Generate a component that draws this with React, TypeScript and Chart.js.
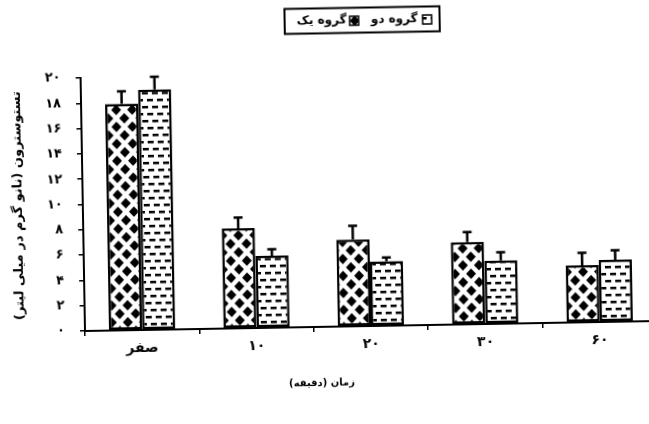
import React, { useEffect, useRef } from 'react';
import { Chart, registerables } from 'chart.js';

Chart.register(...registerables);

// ---- data ----
const categories = ['صفر', '۱۰', '۲۰', '۳۰', '۶۰'];
const seriesLabels = ['گروه یک', 'گروه دو'];
const group1Values = [17.9, 7.9, 6.85, 6.5, 4.5];
const group1Errors = [1.0, 0.85, 1.1, 0.8, 1.0];
const group2Values = [19.0, 5.7, 5.1, 5.0, 4.9];
const group2Errors = [1.0, 0.5, 0.3, 0.65, 0.75];
const yTickLabels = ['۰', '۲', '۴', '۶', '۸', '۱۰', '۱۲', '۱۴', '۱۶', '۱۸', '۲۰'];
const yAxisTitle = 'تستوسترون (نانو گرم در میلی لیتر)';
const xAxisTitle = 'زمان (دقیقه)';

const FONT = '"DejaVu Sans", sans-serif';

function makeDiamondPattern(target: CanvasRenderingContext2D) {
  const c = document.createElement('canvas');
  c.width = 16;
  c.height = 17;
  const g = c.getContext('2d')!;
  g.fillStyle = '#fff';
  g.fillRect(0, 0, 16, 17);
  g.fillStyle = '#000';
  const diamond = (cx: number, cy: number) => {
    g.beginPath();
    g.moveTo(cx - 5, cy);
    g.lineTo(cx, cy - 5.3);
    g.lineTo(cx + 5, cy);
    g.lineTo(cx, cy + 5.3);
    g.closePath();
    g.fill();
  };
  diamond(0, 0);
  diamond(16, 0);
  diamond(0, 17);
  diamond(16, 17);
  diamond(8, 8.5);
  return target.createPattern(c, 'repeat')!;
}

function makeDashPattern(target: CanvasRenderingContext2D) {
  const c = document.createElement('canvas');
  c.width = 10;
  c.height = 14;
  const g = c.getContext('2d')!;
  g.fillStyle = '#fff';
  g.fillRect(0, 0, 10, 14);
  g.fillStyle = '#000';
  g.fillRect(1, 2, 6, 2.5);
  g.fillRect(6, 9, 4, 2.5);
  g.fillRect(0, 9, 2, 2.5);
  return target.createPattern(c, 'repeat')!;
}

const errorsBySeries = [group1Errors, group2Errors];

const errorBarPlugin = {
  id: 'errorBars',
  afterDatasetsDraw(chart: any) {
    const ctx = chart.ctx;
    const yScale = chart.scales.y;
    chart.data.datasets.forEach((ds: any, i: number) => {
      const meta = chart.getDatasetMeta(i);
      meta.data.forEach((bar: any, j: number) => {
        const top = yScale.getPixelForValue(ds.data[j] + errorsBySeries[i][j]);
        ctx.save();
        ctx.strokeStyle = '#000';
        ctx.lineWidth = 2.5;
        ctx.beginPath();
        ctx.moveTo(bar.x, bar.y);
        ctx.lineTo(bar.x, top);
        ctx.moveTo(bar.x - 4.5, top);
        ctx.lineTo(bar.x + 4.5, top);
        ctx.stroke();
        ctx.restore();
      });
    });
  },
};

const decorPlugin = {
  id: 'decor',
  afterDraw(chart: any) {
    const ctx = chart.ctx;
    const area = chart.chartArea;
    const ds = chart.data.datasets;
    ctx.save();
    ctx.direction = 'rtl';
    // legend frame
    ctx.strokeStyle = '#000';
    ctx.lineWidth = 2;
    ctx.strokeRect(290, 12.5, 155, 25);
    ctx.font = `bold 12px ${FONT}`;
    ctx.fillStyle = '#000';
    ctx.textBaseline = 'middle';
    ctx.textAlign = 'right';
    const items = [
      { textRight: 352, boxLeft: 355 },
      { textRight: 423, boxLeft: 428 },
    ];
    items.forEach((it, i) => {
      ctx.fillStyle = '#000';
      ctx.fillText(ds[i].label, it.textRight, 25);
      ctx.fillStyle = ds[i].backgroundColor;
      ctx.fillRect(it.boxLeft, 21, 9, 9);
      ctx.lineWidth = 1.5;
      ctx.strokeRect(it.boxLeft, 21, 9, 9);
    });
    // x axis title
    ctx.fillStyle = '#000';
    ctx.textAlign = 'center';
    ctx.font = `bold 10px ${FONT}`;
    ctx.fillText(xAxisTitle, area.left + 236, 387);
    ctx.restore();
  },
};

export default function App() {
  const ref = useRef<HTMLCanvasElement>(null);

  useEffect(() => {
    const canvas = ref.current!;
    const ctx = canvas.getContext('2d')!;
    const diamond = makeDiamondPattern(ctx);
    const dash = makeDashPattern(ctx);
    const chart = new Chart(canvas, {
      type: 'bar',
      data: {
        labels: categories,
        datasets: [
          {
            label: seriesLabels[0],
            data: group1Values,
            backgroundColor: diamond as any,
            borderColor: '#000',
            borderWidth: 2.5,
            borderSkipped: false,
            categoryPercentage: 0.58,
            barPercentage: 1.0,
          },
          {
            label: seriesLabels[1],
            data: group2Values,
            backgroundColor: dash as any,
            borderColor: '#000',
            borderWidth: 2.5,
            borderSkipped: false,
            categoryPercentage: 0.58,
            barPercentage: 1.0,
          },
        ],
      },
      options: {
        responsive: false,
        animation: false,
        devicePixelRatio: 1,
        layout: { padding: { left: 10, right: 8, top: 78, bottom: 0 } },
        plugins: {
          legend: { display: false },
          tooltip: { enabled: false },
        },
        scales: {
          x: {
            afterFit: (scale: any) => {
              scale.height = 93;
            },
            grid: {
              display: true,
              drawOnChartArea: false,
              drawTicks: true,
              tickLength: 5,
              color: '#000',
              lineWidth: 1.5,
            },
            border: { color: '#000', width: 2 },
            ticks: {
              color: '#000',
              padding: 5,
              font: { family: FONT, size: 14, weight: 'bold' },
              maxRotation: 0,
            },
          },
          y: {
            min: 0,
            max: 20,
            afterFit: (scale: any) => {
              scale.width = 75;
            },
            grid: {
              display: true,
              drawOnChartArea: false,
              drawTicks: true,
              tickLength: 5,
              color: '#000',
              lineWidth: 1.5,
            },
            border: { color: '#000', width: 2 },
            ticks: {
              stepSize: 2,
              color: '#000',
              padding: 15,
              font: { family: FONT, size: 13, weight: 'bold' },
              callback: (_v: any, i: number) => yTickLabels[i],
            },
            title: {
              display: true,
              text: yAxisTitle,
              color: '#000',
              padding: { top: 3, bottom: 0 },
              font: { family: FONT, size: 13, weight: 'bold' },
            },
          },
        },
      },
      plugins: [errorBarPlugin, decorPlugin],
    });
    return () => chart.destroy();
  }, []);

  return (
    <div
      style={{
        position: 'fixed',
        left: 0,
        top: 0,
        width: 649,
        height: 424,
        overflow: 'hidden',
        background: '#fff',
      }}
    >
      <canvas
        ref={ref}
        width={665}
        height={424}
        style={{
          display: 'block',
          width: 665,
          height: 424,
          direction: 'rtl',
          transform: 'rotate(-1deg)',
          transformOrigin: '85px 331px',
        }}
      />
    </div>
  );
}
